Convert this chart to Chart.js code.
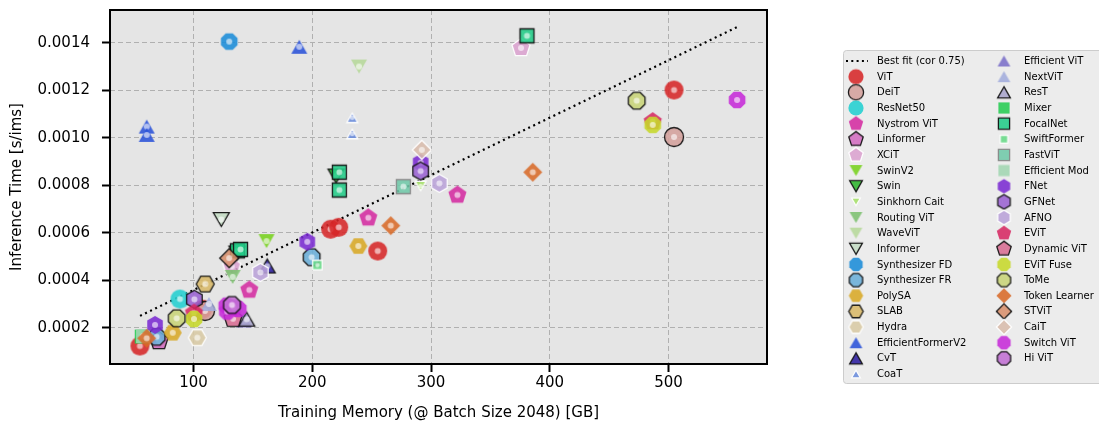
<!DOCTYPE html>
<html>
<head>
<meta charset="utf-8">
<script src="https://cdn.jsdelivr.net/npm/chart.js@4.4.1/dist/chart.umd.min.js"></script>
<style>
  html, body { margin: 0; padding: 0; background: #ffffff; }
  #wrap { width: 1099px; height: 425px; position: relative; }
</style>
</head>
<body>
<div id="wrap"><canvas id="c" width="1099" height="425"></canvas></div>
<script>
// ---- Data: training memory [GB] vs. inference time [s/ims] ----
const fitLabel = 'Best fit (cor 0.75)';
const fitX = [55, 557.7];
const fitY = [0.000251, 0.001467];

const xTicks = [100, 200, 300, 400, 500];
const yTicks = [0.0002, 0.0004, 0.0006, 0.0008, 0.0010, 0.0012, 0.0014];

const seriesNames = [
  'ViT', 'DeiT', 'ResNet50', 'Nystrom ViT', 'Linformer', 'XCiT', 'SwinV2', 'Swin',
  'Sinkhorn Cait', 'Routing ViT', 'WaveViT', 'Informer', 'Synthesizer FD', 'Synthesizer FR',
  'PolySA', 'SLAB', 'Hydra', 'EfficientFormerV2', 'CvT', 'CoaT',
  'Efficient ViT', 'NextViT', 'ResT', 'Mixer', 'FocalNet', 'SwiftFormer', 'FastViT',
  'Efficient Mod', 'FNet', 'GFNet', 'AFNO', 'EViT', 'Dynamic ViT', 'EViT Fuse', 'ToMe',
  'Token Learner', 'STViT', 'CaiT', 'Switch ViT', 'Hi ViT'
];

const vit          = [[504.6, 0.001202], [215.5, 0.000616], [222.3, 0.000624], [255.1, 0.000524], [54.9, 0.000124], [107.7, 0.000279]];
const deit         = [[504.6, 0.001004], [109.7, 0.000272]];
const resnet50     = [[88.6, 0.000322]];
const nystromVit   = [[247.2, 0.000664], [322.2, 0.000760], [147.0, 0.000360]];
const linformer    = [[70.9, 0.000145]];
const xcit         = [[375.8, 0.001379], [132.2, 0.000459]];
const swinV2       = [[161.5, 0.000566]];
const swin         = [[220.0, 0.000840], [136.6, 0.000516]];
const sinkhornCait = [[291.2, 0.000798]];
const routingVit   = [[133.0, 0.000415]];
const waveVit      = [[239.4, 0.001301]];
const informer     = [[123.4, 0.000657]];
const synthFD      = [[130.1, 0.001406]];
const synthFR      = [[199.5, 0.000498], [69.0, 0.000163]];
const polySA       = [[238.8, 0.000545], [82.5, 0.000180]];
const slab         = [[109.9, 0.000385]];
const hydra        = [[103.2, 0.000159]];
const effFormerV2  = [[60.6, 0.001048], [60.6, 0.001013], [189.1, 0.001384]];
const cvt          = [[162.1, 0.000461]];
const coat         = [[233.7, 0.001085], [233.7, 0.001017]];
const efficientVit = [[142.5, 0.000232]];
const nextVit      = [[113.0, 0.000301]];
const rest         = [[144.8, 0.000237]];
const mixer        = [[56.4, 0.000164]];
const focalNet     = [[380.8, 0.001430], [222.8, 0.000856], [222.8, 0.000781], [137.0, 0.000525], [139.6, 0.000531]];
const swiftFormer  = [[204.3, 0.000465]];
const fastVit      = [[276.7, 0.000795]];
const efficientMod = [[57.5, 0.000166]];
const fnet         = [[195.8, 0.000563], [67.6, 0.000213], [291.3, 0.000896]];
const gfnet        = [[291.3, 0.000861], [100.7, 0.000321]];
const afno         = [[307.0, 0.000809], [156.3, 0.000434]];
const evit         = [[486.7, 0.001069], [100.4, 0.000263]];
const dynamicVit   = [[133.3, 0.000239]];
const evitFuse     = [[486.7, 0.001055], [100.4, 0.000238]];
const tome         = [[473.2, 0.001157], [85.9, 0.000241]];
const tokenLearner = [[385.7, 0.000856], [266.1, 0.000631], [60.6, 0.000157]];
const stvit        = [[130.1, 0.000494]];
const cait         = [[292.2, 0.000950]];
const switchVit    = [[557.7, 0.001160], [128.0, 0.000294], [137.7, 0.000280], [128.5, 0.000269], [133.5, 0.000286]];
const hiVit        = [[132.4, 0.000297]];

const seriesPoints = [
  vit, deit, resnet50, nystromVit, linformer, xcit, swinV2, swin,
  sinkhornCait, routingVit, waveVit, informer, synthFD, synthFR,
  polySA, slab, hydra, effFormerV2, cvt, coat,
  efficientVit, nextVit, rest, mixer, focalNet, swiftFormer, fastVit,
  efficientMod, fnet, gfnet, afno, evit, dynamicVit, evitFuse, tome,
  tokenLearner, stvit, cait, switchVit, hiVit
];

// ---- Marker styles (shape, fill, edge, small) ----
const K = '#111111', W = '#ffffff';
const seriesStyles = [
  {m: 'o', c: '#d62728'}, {m: 'o', c: '#d4a09c', e: K}, {m: 'o', c: '#22cfd0'},
  {m: 'p', c: '#d42ba0'}, {m: 'p', c: '#d36cc0', e: K}, {m: 'p', c: '#dba2cf', e: W},
  {m: 'v', c: '#78d21e'}, {m: 'v', c: '#2cb52c', e: K}, {m: 'v', c: '#a6e06a', e: W, small: true},
  {m: 'v', c: '#7cc070'}, {m: 'v', c: '#b6d89a'}, {m: 'v', c: '#c4dcc4', e: K},
  {m: '8', c: '#1a8cd8'}, {m: '8', c: '#6aaed8', e: K},
  {m: 'H', c: '#d8a826'}, {m: 'H', c: '#d8b868', e: K}, {m: 'H', c: '#d8caa4', e: W},
  {m: '^', c: '#2a52d8'}, {m: '^', c: '#2c1ea0', e: K}, {m: '^', c: '#6a8cdc', e: W, small: true},
  {m: '^', c: '#7a6ec8'}, {m: '^', c: '#a2acdc'}, {m: '^', c: '#a8a4cc', e: K},
  {m: 's', c: '#26cc52'}, {m: 's', c: '#22cc88', e: K}, {m: 's', c: '#66d986', e: W, small: true},
  {m: 's', c: '#70c8a8', e: '#888888'}, {m: 's', c: '#a2d6b2'},
  {m: 'h', c: '#7a2ad2'}, {m: 'h', c: '#9a62d2', e: K}, {m: 'h', c: '#baa2d8', e: W},
  {m: 'p', c: '#d62862'}, {m: 'p', c: '#d86c92', e: K},
  {m: '8', c: '#c6d82a'}, {m: '8', c: '#c8d478', e: K},
  {m: 'D', c: '#d86a28'}, {m: 'D', c: '#d8906c', e: K}, {m: 'D', c: '#d8bcac', e: W},
  {m: '8', c: '#c62ad8'}, {m: '8', c: '#c270d4', e: K}
];

const baseSize = {o: 19, p: 19, v: 16, '^': 16, h: 18, H: 18, '8': 18, s: 14, D: 19};

function polyPath(g, cx, cy, r, n, start) {
  for (let i = 0; i < n; i++) {
    const a = start + i * 2 * Math.PI / n;
    const px = cx + r * Math.cos(a), py = cy + r * Math.sin(a);
    if (i === 0) g.moveTo(px, py); else g.lineTo(px, py);
  }
  g.closePath();
}

function markerCanvas(st, scale, withDot) {
  const size = baseSize[st.m] * (st.small ? 0.68 : 1) * scale;
  const ew = st.e ? 1.3 : 0;
  const S = Math.ceil(size + ew * 2 + 4);
  const cv = document.createElement('canvas');
  cv.width = S; cv.height = S;
  const g = cv.getContext('2d');
  const c = S / 2, r = size / 2;
  g.beginPath();
  switch (st.m) {
    case 'o': g.arc(c, c, r, 0, Math.PI * 2); break;
    case 'p': polyPath(g, c, c, r, 5, -Math.PI / 2); break;
    case 'h': polyPath(g, c, c, r, 6, -Math.PI / 2); break;
    case 'H': polyPath(g, c, c, r, 6, 0); break;
    case '8': polyPath(g, c, c, r, 8, Math.PI / 8); break;
    case 's': g.rect(c - r, c - r, 2 * r, 2 * r); break;
    case 'D': polyPath(g, c, c, r, 4, 0); break;
    case '^':
      g.moveTo(c, c - r * 0.87); g.lineTo(c + r, c + r * 0.87); g.lineTo(c - r, c + r * 0.87); g.closePath(); break;
    case 'v':
      g.moveTo(c, c + r * 0.87); g.lineTo(c + r, c - r * 0.87); g.lineTo(c - r, c - r * 0.87); g.closePath(); break;
  }
  g.globalAlpha = 0.88;
  g.fillStyle = st.c;
  g.fill();
  if (st.e) {
    g.globalAlpha = 0.95;
    g.lineWidth = ew;
    g.lineJoin = 'miter';
    g.strokeStyle = st.e;
    g.stroke();
  }
  if (withDot) {
    g.globalAlpha = 0.6;
    g.fillStyle = '#ffffff';
    g.beginPath();
    g.arc(c, c, st.small ? 2.2 : 3, 0, Math.PI * 2);
    g.fill();
  }
  return cv;
}

const plotMarkers = seriesStyles.map(st => markerCanvas(st, 1, true));
const legendMarkers = seriesStyles.map(st => markerCanvas(st, 0.8, false));

// ---- Plot background and frame ----
const frame = {
  id: 'frame',
  beforeDraw(chart) {
    const a = chart.chartArea, ctx = chart.ctx;
    ctx.save();
    ctx.fillStyle = '#e5e5e5';
    ctx.fillRect(a.left, a.top, a.right - a.left, a.bottom - a.top);
    ctx.restore();
  },
  afterDraw(chart) {
    const a = chart.chartArea, ctx = chart.ctx;
    ctx.save();
    ctx.strokeStyle = '#000000';
    ctx.lineWidth = 2;
    ctx.strokeRect(a.left, a.top, a.right - a.left, a.bottom - a.top);
    ctx.restore();
  }
};

// ---- Two-column legend box on the right ----
const sideLegend = {
  id: 'sideLegend',
  afterDraw(chart) {
    const ctx = chart.ctx;
    const bx = 843.5, by = 50.5, bw = 270, bh = 333;
    ctx.save();
    ctx.beginPath();
    ctx.roundRect(bx, by, bw, bh, 3);
    ctx.fillStyle = 'rgba(236,236,236,1)';
    ctx.fill();
    ctx.strokeStyle = '#cccccc';
    ctx.lineWidth = 1;
    ctx.stroke();

    const rowH = 15.65, firstY = 61;
    const items = [{fit: true, label: fitLabel}].concat(seriesNames.map((n, i) => ({label: n, idx: i})));
    ctx.font = "10px 'DejaVu Sans'";
    ctx.textBaseline = 'middle';
    ctx.fillStyle = '#000000';
    items.forEach((it, i) => {
      const col = i < 21 ? 0 : 1;
      const row = col ? i - 21 : i;
      const mx = col ? 1004 : 856;
      const tx = col ? 1024 : 877;
      const y = firstY + row * rowH;
      if (it.fit) {
        ctx.save();
        ctx.strokeStyle = '#000000';
        ctx.lineWidth = 2;
        ctx.setLineDash([2, 3.3]);
        ctx.beginPath();
        ctx.moveTo(846, y);
        ctx.lineTo(868, y);
        ctx.stroke();
        ctx.restore();
      } else {
        const mk = legendMarkers[it.idx];
        ctx.drawImage(mk, mx - mk.width / 2, y - mk.height / 2);
      }
      ctx.fillStyle = '#000000';
      ctx.fillText(it.label, tx, y + 0.5);
    });
    ctx.restore();
  }
};

Chart.defaults.font.family = "'DejaVu Sans', sans-serif";
Chart.defaults.color = '#000000';

const n = seriesNames.length;
const datasets = [{
  label: fitLabel,
  data: fitX.map((x, i) => ({x: x, y: fitY[i]})),
  showLine: true,
  borderColor: '#000000',
  borderWidth: 2.2,
  borderDash: [2, 3.6],
  borderCapStyle: 'butt',
  pointRadius: 0,
  fill: false,
  order: 100
}].concat(seriesNames.map((name, i) => ({
  label: name,
  data: seriesPoints[i].map(p => ({x: p[0], y: p[1]})),
  pointStyle: plotMarkers[i],
  pointRadius: 9,
  pointHoverRadius: 9,
  order: n - i
})));

new Chart(document.getElementById('c'), {
  type: 'scatter',
  data: {datasets: datasets},
  options: {
    responsive: false,
    animation: false,
    events: [],
    layout: {padding: {left: 0, right: 332, top: 10, bottom: 0}},
    plugins: {legend: {display: false}, tooltip: {enabled: false}},
    scales: {
      x: {
        type: 'linear', min: 29.7, max: 582.9,
        afterBuildTicks: s => { s.ticks = xTicks.map(v => ({value: v})); },
        afterFit: s => { s.height = 61; s.paddingLeft = 0; s.paddingRight = 0; },
        grid: {color: '#b0b0b0', lineWidth: 1, drawTicks: true, tickLength: 8, tickColor: '#000000', tickWidth: 2},
        border: {display: false, dash: [5, 3]},
        ticks: {font: {size: 15}, color: '#000000', padding: 2, maxRotation: 0, callback: v => String(v)},
        title: {display: true, text: 'Training Memory (@ Batch Size 2048) [GB]', font: {size: 15}, color: '#000000', padding: {top: 0, bottom: 3}}
      },
      y: {
        type: 'linear', min: 0.0000484, max: 0.0015389,
        afterBuildTicks: s => { s.ticks = yTicks.map(v => ({value: v})); },
        afterFit: s => { s.width = 110; s.paddingTop = 0; s.paddingBottom = 0; },
        grid: {color: '#b0b0b0', lineWidth: 1, drawTicks: true, tickLength: 8, tickColor: '#000000', tickWidth: 2},
        border: {display: false, dash: [5, 3]},
        ticks: {font: {size: 15}, color: '#000000', padding: 12, callback: v => Number(v).toFixed(4)},
        title: {display: true, text: 'Inference Time [s/ims]', font: {size: 15}, color: '#000000', padding: {top: 8, bottom: 0}}
      }
    }
  },
  plugins: [frame, sideLegend]
});
</script>
</body>
</html>
